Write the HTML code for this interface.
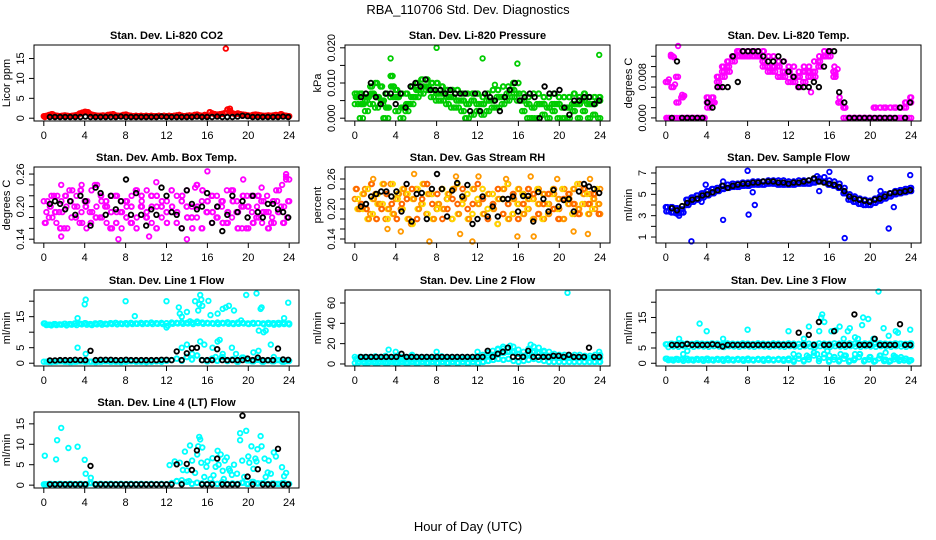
<!DOCTYPE html>
<html><head><meta charset="utf-8"><style>
html,body{margin:0;padding:0;background:#fff}
svg{display:block;font-family:"Liberation Sans",Arial,sans-serif}
</style></head><body>
<svg id="chart" width="936" height="540" viewBox="0 0 936 540">
<text x="468" y="14" text-anchor="middle" font-size="13">RBA_110706  Std. Dev. Diagnostics</text>
<text x="468" y="531" text-anchor="middle" font-size="13">Hour of Day (UTC)</text>
</svg>
<script>
// ---- data ----
const co2Red=[0.5,0.6,0.8,1.0,0.7,0.6,0.5,0.6,0.7,0.6,0.5,0.6,0.7,0.8,1.2,1.4,1.6,1.5,1.0,0.8,0.7,0.6,0.6,0.7,0.6,0.8,0.9,1.0,0.7,0.6,0.6,0.8,0.9,0.7,0.6,0.5,0.6,0.5,0.6,0.5,0.6,0.5,0.6,0.5,0.5,0.6,0.5,0.6,0.5,0.6,0.5,0.6,0.7,0.8,0.6,0.5,0.6,0.7,0.6,0.8,0.9,0.7,0.6,0.8,0.7,1.5,1.2,1.0,0.9,1.0,1.1,1.3,2.2,1.8,1.2,1.0,1.2,1.0,0.9,0.8,0.7,0.6,0.8,0.9,0.8,0.7,0.6,0.6,0.7,0.6,0.7,0.8,0.6,1.0,0.7,0.6,0.5];
const co2RedOut=[[17.8,17.5],[0.1,0.3],[18.2,2.4]];
const co2Black=[0.3,0.3,0.3,0.3,0.3,0.3,0.3,0.4,0.3,0.3,0.3,0.3,0.3,0.3,0.4,0.3,0.3,0.3,0.3,0.3,0.3,0.3,0.4,0.3,0.3,0.3,0.3,0.3,0.3,0.4,0.3,0.3,0.3,0.4,0.3,0.3,0.3,0.4,0.6,0.5,0.3,0.3,0.3,0.3,0.3,0.3,0.4,0.3];

const presHi=[0.007,0.007,0.005,0.009,0.010,0.009,0.007,0.012,0.008,0.007,0.007,0.009,0.010,0.011,0.011,0.010,0.010,0.009,0.008,0.008,0.008,0.007,0.007,0.007,0.007,0.006,0.007,0.008,0.008,0.009,0.009,0.010,0.010,0.007,0.006,0.007,0.007,0.006,0.006,0.007,0.006,0.006,0.006,0.007,0.006,0.007,0.006,0.006,0.006];
const presMid=[0.006,0.004,0.006,0.007,0.006,0.005,0.003,0.009,0.006,0.003,0.004,0.006,0.008,0.009,0.009,0.008,0.007,0.007,0.006,0.006,0.005,0.005,0.004,0.005,0.004,0.004,0.005,0.005,0.006,0.006,0.007,0.008,0.007,0.005,0.004,0.003,0.004,0.004,0.003,0.004,0.004,0.003,0.003,0.004,0.004,0.005,0.004,0.004,0.005];
const presLo=[0.004,0.000,0.002,0.004,0.003,0.004,0.000,0.006,0.002,0.000,0.002,0.004,0.006,0.007,0.008,0.006,0.005,0.005,0.004,0.003,0.003,0.002,0.000,0.001,0.002,0.001,0.002,0.003,0.003,0.004,0.005,0.006,0.005,0.002,0.000,0.000,0.000,0.001,0.000,0.002,0.000,0.000,0.000,0.002,0.000,0.002,0.000,0.001,0.000];
const presGreenOut=[[3.5,0.017],[8,0.020],[12.5,0.017],[15.9,0.0155],[23.9,0.018],[3.7,0.012],[13.7,0.0095],[0.5,0.0],[2.8,0.0],[10.8,0.0],[17.3,0.0]];
const presBlack=[0.006,0.007,0.010,0.006,0.004,0.007,0.007,0.004,0.007,0.003,0.009,0.010,0.009,0.011,0.008,0.008,0.008,0.007,0.008,0.007,0.007,0.007,0.002,0.007,0.002,0.007,0.006,0.005,0.002,0.006,0.008,0.010,0.005,0.006,0.007,0.006,0.000,0.009,0.007,0.007,0.008,0.003,0.001,0.005,0.005,0.006,0.006,0.004,0.005];

const tempHi=[0.007,0.012,0.008,0.004,0.0,0.0,0.0,0.0,0.004,0.004,0.008,0.010,0.011,0.012,0.013,0.013,0.013,0.013,0.013,0.013,0.012,0.012,0.011,0.011,0.010,0.010,0.009,0.010,0.010,0.011,0.012,0.013,0.013,0.010,0.004,0.002,0.000,0.000,0.000,0.000,0.000,0.002,0.002,0.002,0.002,0.002,0.002,0.003,0.004];
const tempMid=[0.0,0.006,0.003,0.0,0.0,0.0,0.0,0.0,0.003,0.003,0.007,0.009,0.010,0.012,0.013,0.012,0.012,0.013,0.012,0.011,0.010,0.010,0.010,0.009,0.009,0.008,0.008,0.009,0.009,0.009,0.011,0.012,0.013,0.009,0.003,0.002,0.000,0.000,0.000,0.000,0.000,0.002,0.000,0.002,0.000,0.002,0.000,0.002,0.003];
const tempLo=[0.0,0.0,0.0,0.0,0.0,0.0,0.0,0.0,0.002,0.003,0.006,0.008,0.009,0.011,0.012,0.012,0.012,0.012,0.012,0.010,0.009,0.009,0.008,0.008,0.007,0.007,0.006,0.007,0.008,0.008,0.010,0.012,0.012,0.008,0.003,0.000,0.000,0.000,0.000,0.000,0.000,0.000,0.000,0.000,0.000,0.000,0.000,0.000,0.000];
const tempPinkOut=[[0.3,0.0075],[0.5,0.0123],[0.8,0.0118],[1.2,0.014],[0.9,0.0065],[1.6,0.0045],[1.8,0.0043],[0.2,0.0070],[14.2,0.0050],[16.6,0.0085],[16.8,0.0095]];
const tempBlack=[0,0.011,0,0,0,0,0,0.003,0.002,0.006,0.006,0.006,0.012,0.007,0.013,0.013,0.013,0.013,0.012,0.011,0.011,0.012,0.011,0.009,0.008,0.006,0.006,0.006,0.007,0.006,0.010,0.013,0.013,0.005,0.003,0,0,0,0,0,0,0,0,0,0,0.002,0,0.003];

const ambA=[0.21,0.18,0.22,0.19,0.16,0.23,0.20,0.17,0.21,0.19,0.24,0.18,0.20,0.16,0.22,0.19,0.21,0.17,0.23,0.20,0.18,0.22,0.16,0.20,0.19,0.23,0.17,0.21,0.20,0.18,0.24,0.16,0.19,0.22,0.18,0.21,0.17,0.23,0.19,0.20,0.16,0.22,0.18,0.21,0.19,0.17,0.23,0.20,0.25];
const ambB=[0.19,0.22,0.17,0.21,0.20,0.18,0.22,0.19,0.16,0.23,0.20,0.21,0.17,0.22,0.19,0.16,0.20,0.22,0.18,0.21,0.23,0.17,0.20,0.18,0.21,0.19,0.22,0.16,0.23,0.20,0.18,0.21,0.19,0.17,0.22,0.20,0.23,0.18,0.21,0.16,0.22,0.19,0.20,0.17,0.22,0.18,0.21,0.24,0.18];
const ambC=[0.17,0.20,0.19,0.16,0.22,0.21,0.18,0.23,0.20,0.17,0.18,0.22,0.21,0.19,0.17,0.21,0.18,0.20,0.16,0.22,0.19,0.20,0.22,0.21,0.17,0.20,0.19,0.22,0.18,0.16,0.20,0.23,0.21,0.19,0.20,0.17,0.19,0.21,0.16,0.22,0.20,0.17,0.22,0.19,0.16,0.21,0.19,0.17,0.21];
const ambOut=[[1.7,0.24],[1.7,0.145],[3.7,0.24],[7.3,0.14],[11,0.245],[14,0.14],[16,0.265],[19.5,0.25],[23.7,0.26],[23.7,0.255],[10.3,0.145],[14.8,0.235],[21.3,0.235]];
const ambBlack=[0.205,0.21,0.205,0.195,0.21,0.185,0.22,0.21,0.165,0.235,0.225,0.185,0.22,0.195,0.21,0.25,0.185,0.225,0.185,0.165,0.195,0.185,0.235,0.22,0.19,0.185,0.16,0.23,0.205,0.195,0.20,0.225,0.17,0.20,0.155,0.185,0.22,0.19,0.21,0.18,0.22,0.19,0.18,0.205,0.205,0.195,0.19,0.18];

const rhA=[0.22,0.20,0.24,0.19,0.23,0.21,0.18,0.25,0.22,0.20,0.23,0.17,0.24,0.21,0.19,0.23,0.20,0.24,0.22,0.18,0.25,0.21,0.23,0.19,0.22,0.24,0.20,0.23,0.17,0.22,0.25,0.19,0.21,0.23,0.20,0.22,0.24,0.18,0.21,0.23,0.20,0.24,0.22,0.19,0.25,0.21,0.23,0.20,0.24];
const rhB=[0.20,0.23,0.18,0.22,0.21,0.25,0.20,0.19,0.23,0.24,0.18,0.22,0.20,0.25,0.23,0.18,0.21,0.20,0.23,0.24,0.19,0.22,0.18,0.24,0.21,0.19,0.23,0.20,0.22,0.24,0.18,0.22,0.24,0.19,0.22,0.18,0.21,0.23,0.19,0.24,0.22,0.18,0.21,0.24,0.20,0.23,0.19,0.22,0.21];
const rhC=[0.24,0.21,0.20,0.25,0.18,0.20,0.23,0.21,0.18,0.21,0.22,0.24,0.18,0.22,0.25,0.21,0.23,0.18,0.20,0.22,0.21,0.24,0.20,0.21,0.25,0.22,0.18,0.21,0.24,0.19,0.21,0.23,0.18,0.21,0.24,0.23,0.19,0.21,0.23,0.20,0.18,0.22,0.23,0.21,0.19,0.24,0.21,0.23,0.19];
const rhOut=[[5.8,0.27],[7.3,0.135],[10.3,0.15],[11.5,0.135],[14.8,0.26],[15.9,0.145],[17.5,0.145],[21.4,0.155],[22.8,0.15],[4.5,0.155],[3.2,0.16],[1.8,0.26],[9.9,0.265],[12.1,0.265],[17.2,0.265],[19.8,0.26],[23.0,0.26]];
const rhBlack=[0.205,0.21,0.225,0.23,0.235,0.235,0.225,0.235,0.195,0.25,0.175,0.23,0.232,0.18,0.24,0.27,0.24,0.185,0.237,0.252,0.225,0.248,0.17,0.18,0.225,0.185,0.205,0.185,0.22,0.22,0.225,0.195,0.226,0.226,0.175,0.234,0.22,0.195,0.238,0.205,0.218,0.22,0.195,0.235,0.25,0.245,0.24,0.232];

const flowHi=[3.8,3.8,3.7,3.6,4.5,4.7,4.9,5.1,5.3,5.5,5.6,5.8,5.9,6.0,6.0,6.1,6.1,6.2,6.2,6.2,6.3,6.3,6.3,6.3,6.2,6.2,6.3,6.3,6.3,6.4,6.5,6.6,6.3,6.2,6.0,5.6,5.0,4.8,4.6,4.5,4.4,4.6,4.8,5.0,5.1,5.3,5.4,5.5,5.6];
const flowLo=[3.4,3.3,3.2,3.3,4.0,4.3,4.5,4.7,4.9,5.1,5.3,5.5,5.6,5.7,5.7,5.8,5.8,5.9,5.9,5.9,6.0,6.0,5.9,5.9,5.9,5.9,6.0,6.0,6.0,6.1,6.2,6.2,5.9,5.8,5.6,5.1,4.5,4.3,4.1,4.0,4.0,4.2,4.4,4.6,4.8,5.0,5.1,5.2,5.3];
const flowOut=[[1.3,3.0],[2.5,0.6],[3.5,4.3],[5.6,2.6],[8,7.2],[8.1,3.1],[8.5,5.2],[8.7,4.0],[15,5.3],[16,7.1],[17.5,0.9],[20,6.5],[21,5.3],[21.8,1.8],[22.3,3.8],[23.9,6.8],[14.8,6.7],[5.6,6.2],[3.9,5.9]];
const flowBlack=[3.7,3.5,3.9,4.2,4.5,4.6,4.9,5.0,5.2,5.4,5.8,5.6,5.8,5.9,6.0,6.0,6.1,6.1,6.2,6.2,6.2,6.1,6.1,6.0,6.1,6.1,6.2,6.3,6.5,6.2,6.1,6.0,5.9,5.7,5.3,4.8,4.6,4.5,4.4,4.3,4.5,4.6,4.8,5.1,5.2,5.2,5.3,5.4];

const l1Hi=[12.8,12.4,12.6,12.5,12.7,12.6,12.8,12.7,12.9,12.6,12.8,12.9,12.7,12.9,13.0,12.8,12.9,13.0,12.8,13.0,12.9,13.1,12.9,13.0,12.9,13.1,13.0,13.2,13.0,13.1,13.4,13.1,13.0,12.9,13.1,13.0,13.2,12.9,13.1,13.0,12.8,13.0,12.9,12.8,13.0,12.9,13.0,13.1,12.8];
const l1Mid=[12.3,12.2,12.3,12.4,12.2,12.4,12.3,12.5,12.4,12.3,12.5,12.4,12.5,12.6,12.5,12.6,12.5,12.6,12.7,12.6,12.7,12.6,12.7,12.6,12.1,12.7,12.8,12.7,12.8,12.6,12.9,12.7,12.8,12.7,12.6,12.8,12.7,12.6,12.7,12.8,12.6,12.7,10.5,12.5,12.6,12.4,12.5,12.6,12.5];
const l1Lo=[0.5,0.4,0.5,0.6,0.5,0.4,0.5,0.6,0.5,0.5,0.4,0.5,0.6,0.5,0.5,0.4,0.5,0.6,0.5,0.5,0.4,0.5,0.6,0.5,0.8,1.0,1.5,0.8,2.0,1.2,2.5,1.0,0.6,1.5,0.8,2.0,0.7,1.2,0.5,1.8,0.9,0.6,1.1,0.5,0.9,0.6,1.0,0.5,0.7];
const l1Out=[[3.3,14.5],[3.3,5],[4,19],[4.1,20.5],[4.1,3],[8,20],[8.9,15.2],[12,20],[12,11.5],[13.2,18],[13.3,16],[13.5,5],[14,16.5],[14,6],[14.8,20],[15.1,17],[15.2,19],[15.3,22],[15.4,20.5],[15.5,18.5],[15.3,7],[15.7,6],[16.1,20.1],[16.5,5],[17,16],[17,7],[17.2,7.5],[17.5,17.5],[17.5,3],[17.8,18],[18.1,18.5],[18.4,5],[18.6,17],[18.8,3],[19.8,22],[20.5,3.5],[20.8,22.5],[21,4],[21.2,17.5],[21.3,18],[21.5,10],[21.7,10.5],[22.2,6],[22.5,2],[23.5,14.5],[23.9,19.5],[19.3,13.8],[16.3,15.5],[13.5,15],[14.3,13.5],[14.5,3],[16.8,2],[19.5,1.8]];
const l1Black=[0.9,0.9,1,1,1,1.1,1,1,4,1,1.1,1.1,1.1,1,1,1.1,1,1,1,1,1,1,1.1,1.1,1,3.8,1,3.2,4.8,5,1,1,1,4.5,1,1,1,1,1,1.5,1,1.8,1,1,1,4.7,1.2,1.1];

const l2Hi=[7,7,7,7,7.5,7,8,7,8,7,7,7.5,7,7,7,7,7,7.5,7,7,7,7,7,7,7.5,9,11,13,14,15,16,17,14,12,15,17,16,13,12,10,9,9,8,9,9,8,8,9,9];
const l2Mid=[5,5,5,5,5,5,5,5,5,5,5,5,5,5,5,5,5,5,5,5,5,5,5,5,5,6,8,9,10,11,12,12,10,8,10,12,11,9,8,7,6,6,6,6,6,6,6,6,6];
const l2Lo=[1,2,1,2,1,2,1,2,1,2,1,2,1,2,1,2,1,2,1,2,1,2,1,2,1,2,3,4,5,4,5,3,2,3,4,5,4,3,2,2,2,2,2,2,2,2,2,2,2];
const l2Out=[[3.3,14],[4,12],[8,12],[12,12],[14,15],[14.5,17],[15.2,18],[17.2,19],[17.5,17],[20.8,70],[18.5,12],[23.9,12],[5.6,9]];
const l2Black=[7,7,7,7,7,7,7,7,10,7,7,7,7,7,7,7,7,7,7,7,7,7,7,7,7,13,7,10,12,16,7,7,7,13,7,7,7,7,8,8,7,9,7,7,7,16,7,7];

const l3Hi=[6.2,6.4,6.3,6.5,6.4,6.3,6.5,6.4,6.3,6.5,6.4,6.2,6.5,6.4,6.3,6.5,6.4,6.3,6.5,6.4,6.3,6.5,6.4,6.3,6.5,6.4,6.3,6.5,6.4,6.2,6.5,6.4,6.3,6.5,6.4,6.3,6.5,6.4,6.3,6.5,6.4,6.3,6.5,6.4,6.3,6.5,6.4,6.3,6.5];
const l3Mid=[5.3,5.5,5.4,5.6,5.5,5.4,5.6,5.5,5.4,5.6,5.5,5.3,5.6,5.5,5.4,5.6,5.5,5.4,5.6,5.5,5.4,5.6,5.5,5.4,5.6,5.5,5.4,5.6,5.5,5.3,5.6,5.5,5.4,5.6,5.5,5.4,5.6,5.5,5.4,5.6,5.5,5.4,5.6,5.5,5.4,5.6,5.5,5.4,5.6];
const l3Lo=[1.5,1.2,1.4,1.3,1.5,1.2,1.4,1.3,1.5,1.2,1.4,1.3,1.5,1.2,1.4,1.3,1.5,1.2,1.4,1.3,1.5,1.2,1.4,1.3,1.5,1.0,2.5,1.0,2.0,3.5,1.5,3.0,0.8,2.0,1.0,2.5,0.8,1.5,3.0,1.0,2.0,0.8,2.5,1.2,0.8,2.0,1.2,1.5,1.0];
const l3Lo2=[1.0,0.9,1.1,0.8,1.0,0.9,1.1,0.8,1.0,0.9,1.1,0.8,1.0,0.9,1.1,0.8,1.0,0.9,1.1,0.8,1.0,0.9,1.1,0.8,1.0,0.5,1.5,0.6,1.2,2.5,0.7,1.8,0.5,1.2,0.6,1.5,0.5,1.0,2.0,0.6,1.2,0.5,1.6,0.7,0.5,1.3,0.8,0.9,0.6];
const l3Out=[[1.7,3],[1.3,8],[2.1,4],[3.3,13],[4,10.5],[5.6,8],[8,11],[12,10.5],[12.5,3],[13.5,8],[14,12],[14.5,5],[14.8,3],[15,10.5],[15.2,15],[15.3,16],[15.5,13.5],[15.8,4],[16.2,10.5],[16.6,10.8],[17,12],[17.1,3],[17.4,8],[17.8,10.5],[18,11.5],[18.5,8.5],[18.8,8],[19.2,12.5],[19.3,15],[19.8,14.5],[20.3,8],[20.8,23.5],[21.3,11.5],[21.8,9],[22.5,10.5],[22.7,10],[23,2],[23.9,11],[16,2.5],[18.5,3],[20,2],[21.5,3.5],[22.3,2.5],[13.8,2.5],[17.6,2.5]];
const l3Black=[6,6,6,6.3,6,6,6,6,6.2,6,5.5,6,6,6,6,6,6,6,6,6,6,6,6,6,6,10,6,9.3,6,13.5,6,6,10.5,6,6,6,16,6,6,6,8,6,6,6,6,12.8,6,6];

const l4Base=[0.2,0.3,0.2,0.3,0.2,0.3,0.2,0.3,0.2,0.5,0.2,0.3,0.2,0.3,0.2,0.3,0.2,0.3,0.2,0.3,0.2,0.3,0.2,0.3,0.2,0.5,1.0,0.4,0.8,0.3,0.6,0.4,0.3,0.5,0.3,0.7,0.3,0.4,0.3,0.6,0.3,0.8,0.4,0.5,0.3,0.4,0.3,0.5,0.3];
const l4Out=[[0.1,7.2],[1.2,6.3],[1.3,11],[1.7,14],[2.4,9.1],[3.3,9.4],[4,6.2],[4.1,2.8],[4.6,1.8],[12.3,4.9],[12.8,5.8],[13.3,5.5],[13.6,3.7],[13.8,8.2],[14,3.6],[14.3,9.7],[14.5,6],[14.8,3],[15,7.5],[15.1,9.5],[15.2,11.8],[15.3,11.2],[15.4,5.5],[15.5,9.2],[15.7,2],[16,5.8],[16.5,6.6],[16.6,2.4],[16.8,4.5],[17,8.4],[17.1,5],[17.3,7.5],[17.5,3.5],[17.7,6],[17.9,6.8],[18.1,4],[18.4,2.5],[18.6,5],[18.9,2.8],[19.2,12.7],[19.2,11],[19.4,6],[19.6,2],[19.8,13.3],[20,7],[20.1,5.5],[20.3,9.5],[20.5,4],[20.7,6.5],[20.9,8.8],[21.2,12],[21.3,9.5],[21.6,6.5],[21.7,2],[22,6],[22.5,8],[22.7,7],[23.3,4.4],[23.5,2.2],[23.7,3],[14.2,1],[16.3,1.5],[18.2,3.5],[20.8,5.8],[21.9,3.1],[22.2,2.8],[13.5,1.2],[15.9,4.5],[17.6,1.5]];
const l4Black=[0.2,0.2,0.2,0.2,0.2,0.2,0.2,0.2,4.7,0.2,0.2,0.2,0.2,0.2,0.2,0.2,0.2,0.2,0.2,0.2,0.2,0.2,0.2,0.2,0.2,5.1,0.2,5.2,3.7,8.5,0.2,0.2,0.2,6.5,0.2,0.2,0.2,0.2,17,2.1,0.2,3.9,0.2,0.2,0.2,8.9,0.2,0.2];

const xTicks=[0,4,8,12,16,20,24];
// ---- layout ----
const colL=[34,345,656], colW=265, rowT=[45,167,290,412], boxH=76;
const NS='http://www.w3.org/2000/svg';
const svg=document.getElementById('chart');
function mk(tag,attrs,parent){const e=document.createElementNS(NS,tag);for(const k in attrs)e.setAttribute(k,attrs[k]);(parent||svg).appendChild(e);return e;}

const panels=[
 {name:'co2',title:'Stan. Dev. Li-820 CO2',ylab:'Licor ppm',dom:[-0.7,18.4],ticks:[0,5,10,15],labs:['0','5','10','15'],
  series:[{a:co2Red,x0:0,x1:24,c:'#ff0000'},{a:co2Red,x0:0.12,x1:23.9,c:'#ff0000'},{p:co2RedOut,c:'#ff0000'},{a:co2Black,x0:0.6,x1:23.9,c:'#000'}]},
 {name:'pressure',title:'Stan. Dev. Li-820 Pressure',ylab:'kPa',dom:[-0.0008,0.0208],ticks:[0,0.005,0.01,0.015,0.02],labs:['0.000','','0.010','','0.020'],
  series:[{a:presHi,x0:0,x1:24,c:'#00cc00'},{a:presHi,x0:0.2,x1:23.9,c:'#00cc00'},{a:presMid,x0:0.25,x1:24,c:'#00cc00'},{a:presLo,x0:0,x1:23.8,c:'#00cc00'},{a:presLo,x0:0.3,x1:24,c:'#00cc00'},{a:presMid,x0:0.1,x1:23.7,c:'#00cc00'},{a:presMid,x0:0.4,x1:23.9,c:'#00cc00'},{p:presGreenOut,c:'#00cc00'},{a:presBlack,x0:0.6,x1:23.9,c:'#000'}]},
 {name:'temp',title:'Stan. Dev. Li-820 Temp.',ylab:'degrees C',dom:[-0.0006,0.0142],ticks:[0,0.002,0.004,0.006,0.008,0.01,0.012],labs:['0.000','','','','0.008','',''],
  series:[{a:tempHi,x0:0,x1:24,c:'#ff00ff'},{a:tempHi,x0:0.2,x1:23.9,c:'#ff00ff'},{a:tempMid,x0:0.25,x1:24,c:'#ff00ff'},{a:tempMid,x0:0.05,x1:23.8,c:'#ff00ff'},{a:tempLo,x0:0.1,x1:23.8,c:'#ff00ff'},{a:tempLo,x0:0.35,x1:24,c:'#ff00ff'},{p:tempPinkOut,c:'#ff00ff'},{a:tempBlack,x0:0.6,x1:23.9,c:'#000'}]},
 {name:'amb-box-temp',title:'Stan. Dev. Amb. Box Temp.',ylab:'degrees C',dom:[0.133,0.273],ticks:[0.14,0.16,0.18,0.2,0.22,0.24,0.26],labs:['0.14','','','0.20','','','0.26'],
  series:[{a:ambA,x0:0,x1:24,c:'#ff00ff'},{a:ambB,x0:0.25,x1:23.8,c:'#ff00ff'},{a:ambC,x0:0.1,x1:24,c:'#ff00ff'},{a:ambA,x0:0.35,x1:23.7,c:'#ff00ff'},{a:ambC,x0:0.18,x1:23.9,c:'#ff00ff'},{p:ambOut,c:'#ff00ff'},{a:ambBlack,x0:0.6,x1:23.9,c:'#000'}]},
 {name:'gas-rh',title:'Stan. Dev. Gas Stream RH',ylab:'percent',dom:[0.132,0.284],ticks:[0.14,0.16,0.18,0.2,0.22,0.24,0.26],labs:['0.14','','','0.20','','','0.26'],
  series:[{a:rhA,x0:0,x1:24,c:'#ff8c00'},{a:rhB,x0:0.25,x1:23.8,c:'#ffd700'},{a:rhC,x0:0.1,x1:24,c:'#ff8c00'},{a:rhB,x0:0.4,x1:23.9,c:'#ff8c00'},{a:rhA,x0:0.3,x1:23.7,c:'#ffd700'},{a:rhC,x0:0.18,x1:23.85,c:'#ff6600'},{p:rhOut,c:'#ff9900'},{a:rhBlack,x0:0.6,x1:23.9,c:'#000'}]},
 {name:'sample-flow',title:'Stan. Dev. Sample Flow',ylab:'ml/min',dom:[0.44,7.56],ticks:[1,2,3,4,5,6,7],labs:['1','','3','','5','','7'],
  series:[{a:flowHi,x0:0,x1:24,c:'#0000ff'},{a:flowLo,x0:0.25,x1:24,c:'#0000ff'},{a:flowHi,x0:0.15,x1:23.9,c:'#0000ff'},{a:flowLo,x0:0.05,x1:23.8,c:'#0000ff'},{p:flowOut,c:'#0000ff'},{a:flowBlack,x0:0.6,x1:23.9,c:'#000'}]},
 {name:'line1-flow',title:'Stan. Dev. Line 1 Flow',ylab:'ml/min',dom:[-0.9,23.6],ticks:[0,5,10,15,20],labs:['0','5','','15',''],
  series:[{a:l1Hi,x0:0,x1:24,c:'#00ffff'},{a:l1Mid,x0:0.25,x1:24,c:'#00ffff'},{a:l1Hi,x0:0.12,x1:23.9,c:'#00ffff'},{a:l1Lo,x0:0,x1:24,c:'#00ffff'},{a:l1Lo,x0:0.25,x1:23.8,c:'#00ffff'},{p:l1Out,c:'#00ffff'},{a:l1Black,x0:0.6,x1:23.9,c:'#000'}]},
 {name:'line2-flow',title:'Stan. Dev. Line 2 Flow',ylab:'ml/min',dom:[-2,72.8],ticks:[0,20,40,60],labs:['0','20','40','60'],
  series:[{a:l2Hi,x0:0,x1:24,c:'#00ffff'},{a:l2Mid,x0:0.25,x1:24,c:'#00ffff'},{a:l2Lo,x0:0,x1:24,c:'#00ffff'},{a:l2Mid,x0:0.1,x1:23.8,c:'#00ffff'},{a:l2Lo,x0:0.3,x1:23.9,c:'#00ffff'},{p:l2Out,c:'#00ffff'},{a:l2Black,x0:0.6,x1:23.9,c:'#000'}]},
 {name:'line3-flow',title:'Stan. Dev. Line 3 Flow',ylab:'ml/min',dom:[-0.9,24],ticks:[0,5,10,15,20],labs:['0','5','','15',''],
  series:[{a:l3Hi,x0:0,x1:24,c:'#00ffff'},{a:l3Mid,x0:0.25,x1:24,c:'#00ffff'},{a:l3Hi,x0:0.12,x1:23.9,c:'#00ffff'},{a:l3Lo,x0:0,x1:24,c:'#00ffff'},{a:l3Lo2,x0:0.25,x1:23.8,c:'#00ffff'},{a:l3Lo,x0:0.12,x1:23.9,c:'#00ffff'},{p:l3Out,c:'#00ffff'},{a:l3Black,x0:0.6,x1:23.9,c:'#000'}]},
 {name:'line4-flow',title:'Stan. Dev. Line 4 (LT) Flow',ylab:'ml/min',dom:[-0.7,17.9],ticks:[0,5,10,15],labs:['0','5','10','15'],
  series:[{a:l4Base,x0:0,x1:24,c:'#00ffff'},{a:l4Base,x0:0.25,x1:23.8,c:'#00ffff'},{a:l4Base,x0:0.12,x1:23.9,c:'#00ffff'},{p:l4Out,c:'#00ffff'},{a:l4Black,x0:0.6,x1:23.9,c:'#000'}]}
];

panels.forEach((P,i)=>{
  const L=colL[i%3], T=rowT[Math.floor(i/3)], W=colW, H=boxH;
  const g=mk('g',{});
  
  
  const xs=v=>L+(v+0.96)/25.92*W;
  const ys=v=>T+H-(v-P.dom[0])/(P.dom[1]-P.dom[0])*H;
  const t=mk('text',{x:L+W/2,y:T-6,'text-anchor':'middle','font-size':11,'font-weight':'bold'},g);
  t.textContent=P.title;
  
  
  const pg=mk('g',{fill:'none','stroke-width':1.8},g);
  
  
  const clip=v=>Math.max(T+1,Math.min(T+H-1,v));
  P.series.forEach(s=>{
    const pts=s.p?s.p:s.a.map((v,k)=>[s.x0+k*(s.x1-s.x0)/(s.a.length-1),v]);
    pts.forEach(q=>{
      const c=mk('circle',{cx:xs(q[0]).toFixed(1),cy:clip(ys(q[1])).toFixed(1),r:2.3,stroke:s.c},pg);
      
      
    });
  });
  const box=mk('rect',{x:L,y:T,width:W,height:H,fill:'none',stroke:'#000','stroke-width':1},g);
  
  
  xTicks.forEach(v=>{
    const x=xs(v);
    mk('line',{x1:x,x2:x,y1:T+H,y2:T+H+5,stroke:'#000'},g);
    const lt=mk('text',{x:x,y:T+H+18,'text-anchor':'middle','font-size':11},g);
    lt.textContent=v;
    
    
  });
  P.ticks.forEach((v,k)=>{
    const y=ys(v);
    mk('line',{x1:L-5,x2:L,y1:y,y2:y,stroke:'#000'},g);
    if(P.labs[k]){
      const lt=mk('text',{x:L-10,y:y,'text-anchor':'middle','font-size':11,transform:`rotate(-90 ${L-10} ${y})`},g);
      lt.textContent=P.labs[k];
      
      
    }
  });
  const yl=mk('text',{x:L-24,y:T+H/2,'text-anchor':'middle','font-size':11,transform:`rotate(-90 ${L-24} ${T+H/2})`},g);
  yl.textContent=P.ylab;
  
  
});
</script>
</body></html>
